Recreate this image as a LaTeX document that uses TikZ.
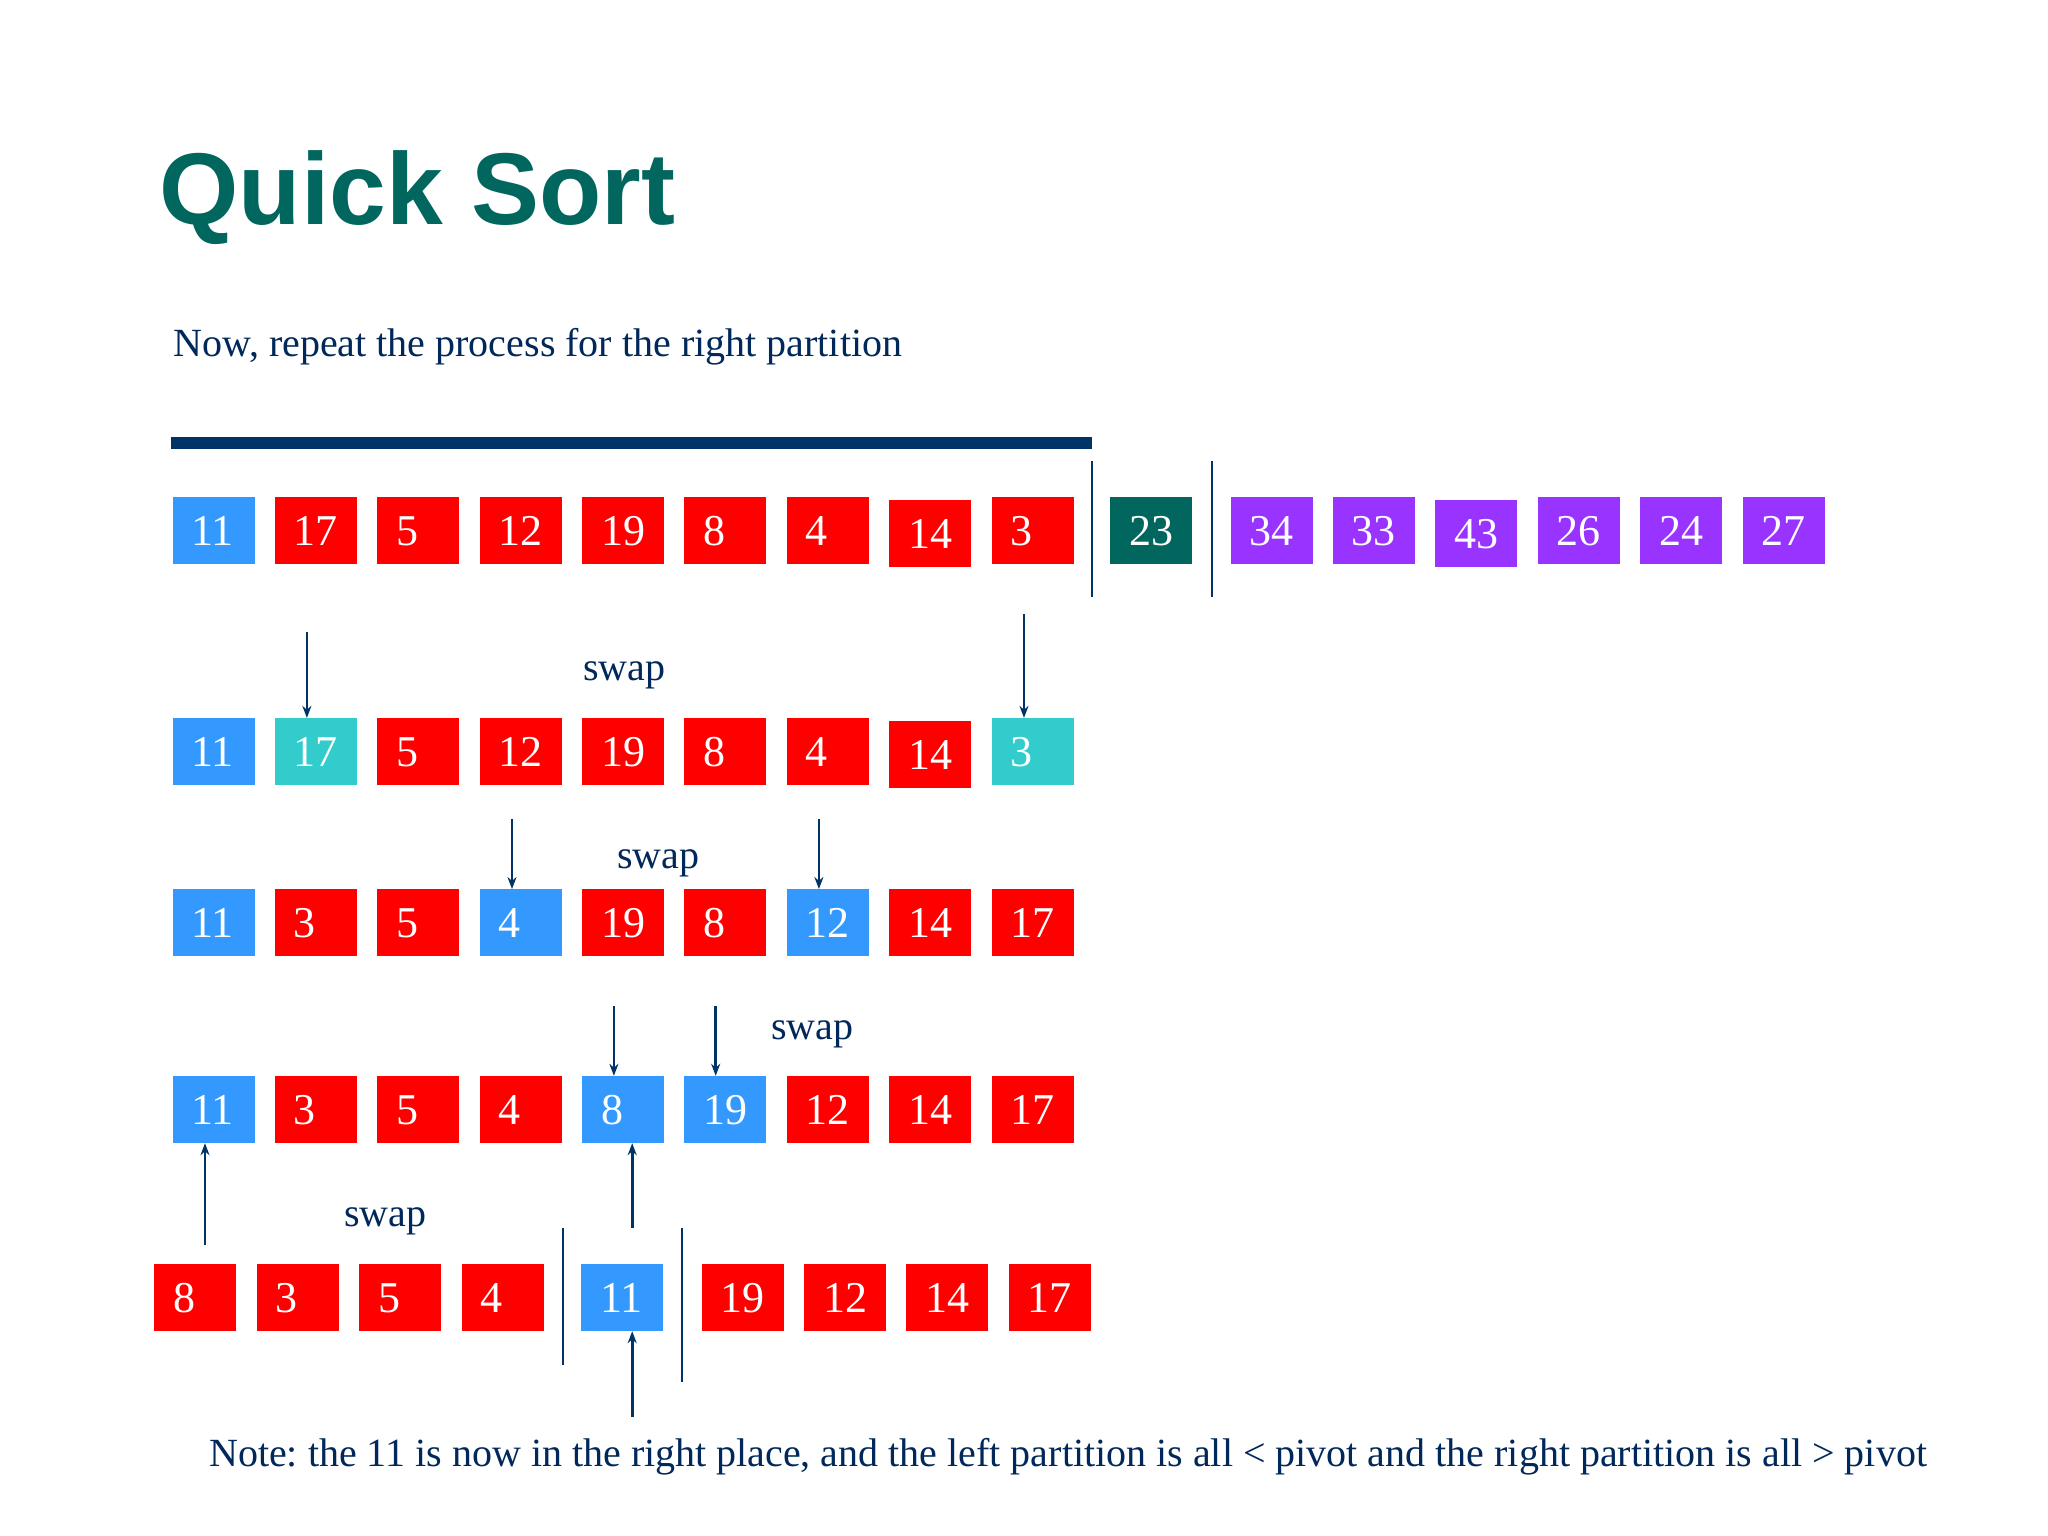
\documentclass[tikz,border=0pt]{standalone}
\usepackage{fontspec}
\setmainfont{Liberation Serif}
\newfontfamily\titlefont{Liberation Sans}
\usetikzlibrary{arrows.meta}
\definecolor{qblue}{RGB}{51,153,255}
\definecolor{qred}{RGB}{255,0,0}
\definecolor{qcyan}{RGB}{51,204,204}
\definecolor{qpurple}{RGB}{153,51,255}
\definecolor{qteal}{RGB}{0,102,94}
\definecolor{qnavy}{RGB}{0,51,102}
\definecolor{qtext}{RGB}{0,40,90}
\frenchspacing
\begin{document}
\begin{tikzpicture}[x=1pt,y=-1pt,
  cell/.style={fill=#1, text=white, minimum width=82pt, minimum height=67pt,
    inner xsep=19pt, inner ysep=0pt, text width=44pt, align=left,
    font=\fontsize{44}{44}\selectfont, text height=30pt, text depth=0pt},
  arrowline/.style={draw=qnavy, line width=2.6pt, -{Stealth[length=12pt,width=9pt]}},
  sepline/.style={draw=qnavy, line width=2.6pt},
  swaptext/.style={text=qtext, font=\fontsize{40}{40}\selectfont, inner sep=0pt},
  plaintext/.style={text=qtext, font=\fontsize{40}{40}\selectfont, inner sep=0pt, anchor=base west}]
\useasboundingbox (0,0) rectangle (2048,1536);

% title and subtitle
\node[anchor=base west, text=qteal, inner sep=0pt,
  font=\titlefont\bfseries\fontsize{102}{102}\selectfont] (title) at (159.3,224.6) {Quick Sort};
\node[plaintext] (sub) at (173.7,356.6) {Now, repeat the process for the right partition};

% top bar
\fill[qnavy] (171,437) rectangle (1092,449);

% row 1
\foreach \v/\c/\d [count=\i from 0] in {11/qblue/0,17/qred/0,5/qred/0,12/qred/0,19/qred/0,8/qred/0,4/qred/0,14/qred/2.6,3/qred/0}
  \node[cell=\c] (a\i) at ({213.6+\i*102.37},{530.9+\d}) {\v};
\node[cell=qteal] (piv) at (1151.3,530.9) {23};
\foreach \v/\d [count=\i from 0] in {34/0,33/0,43/2.6,26/0,24/0,27/0}
  \node[cell=qpurple] (p\i) at ({1271.5+\i*102.4},{530.9+\d}) {\v};
\draw[sepline] (1091.9,461) -- (1091.9,597);
\draw[sepline] (1212,461) -- (1212,597);

% row 2
\foreach \v/\c/\d [count=\i from 0] in {11/qblue/0,17/qcyan/0,5/qred/0,12/qred/0,19/qred/0,8/qred/0,4/qred/0,14/qred/2.6,3/qcyan/0}
  \node[cell=\c] (b\i) at ({213.6+\i*102.37},{751.6+\d}) {\v};
\node[swaptext] (s1) at (624.3,675) {swap};
\coordinate (t1) at (306.9,632.1);
\coordinate (t2) at (1024,614);
\draw[arrowline] (t1) -- (t1 |- b1.north);
\draw[arrowline] (t2) -- (t2 |- b8.north);

% row 3
\foreach \v/\c [count=\i from 0] in {11/qblue,3/qred,5/qred,4/qblue,19/qred,8/qred,12/qblue,14/qred,17/qred}
  \node[cell=\c] (c\i) at ({213.6+\i*102.37},922.7) {\v};
\node[swaptext] (s2) at (658.2,863) {swap};
\coordinate (t3) at (512,819);
\coordinate (t4) at (818.9,819);
\draw[arrowline] (t3) -- (t3 |- c3.north);
\draw[arrowline] (t4) -- (t4 |- c6.north);

% row 4
\foreach \v/\c [count=\i from 0] in {11/qblue,3/qred,5/qred,4/qred,8/qblue,19/qblue,12/qred,14/qred,17/qred}
  \node[cell=\c] (d\i) at ({213.6+\i*102.37},1109.5) {\v};
\node[swaptext] (s3) at (812.4,1034) {swap};
\coordinate (t5) at (613.9,1005.7);
\coordinate (t6) at (715.7,1005.7);
\draw[arrowline] (t5) -- (t5 |- d4.north);
\draw[arrowline] (t6) -- (t6 |- d5.north);
\coordinate (u1) at (205,1244.7);
\coordinate (u2) at (632.2,1227.7);
\draw[arrowline] (u1) -- (u1 |- d0.south);
\draw[arrowline] (u2) -- (u2 |- d4.south);

% row 5
\foreach \v [count=\i from 0] in {8,3,5,4}
  \node[cell=qred] (e\i) at ({195.3+\i*102.4},1297.5) {\v};
\node[cell=qblue] (e4) at (622.4,1297.5) {11};
\foreach \v [count=\i from 5] in {19,12,14,17}
  \node[cell=qred] (e\i) at ({742.6+(\i-5)*102.4},1297.5) {\v};
\node[swaptext] (s4) at (385.3,1221) {swap};
\draw[sepline] (563,1227.7) -- (563,1364.8);
\draw[sepline] (681.8,1227.7) -- (681.8,1381.8);
\coordinate (u3) at (632.2,1417);
\draw[arrowline] (u3) -- (u3 |- e4.south);

% note
\node[plaintext] (note) at (209,1466) {Note: the 11 is now in the right place, and the left partition is all < pivot and the right partition is all > pivot};
\end{tikzpicture}
\end{document}
